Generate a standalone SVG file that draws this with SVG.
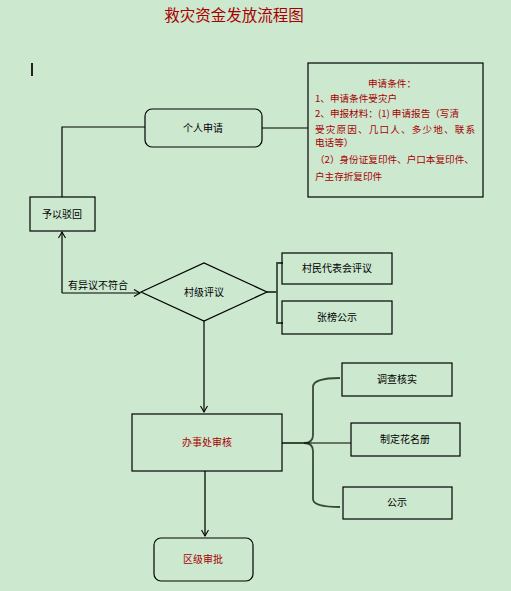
<svg xmlns="http://www.w3.org/2000/svg" width="511" height="591" viewBox="0 0 511 591">
<defs>
<style>
.t{font-family:"Noto Sans CJK SC","Noto Sans",sans-serif;font-size:10px;fill:#000;text-anchor:middle}
.r{fill:#a80000}
.c{font-family:"Noto Sans CJK SC","Noto Sans",sans-serif;font-size:9.6px;fill:#a80000}
.box{fill:none;stroke:#000;stroke-width:1.2}
.ln{fill:none;stroke:#000;stroke-width:1.2}
.br{fill:none;stroke:#3a4a3a;stroke-width:1.8}
</style>
<marker id="ar" markerWidth="10" markerHeight="10" refX="7" refY="4" orient="auto" markerUnits="userSpaceOnUse">
<path d="M1,0.5 L7,4 L1,7.5" fill="none" stroke="#000" stroke-width="1.1"/>
</marker>
</defs>
<rect width="511" height="591" fill="#cce8cf"/>
<text x="234" y="21" style="font-family:'Noto Sans CJK SC',sans-serif;font-size:15.5px;fill:#a80000;text-anchor:middle">救灾资金发放流程图</text>
<rect x="31" y="63" width="2" height="13" fill="#222"/>

<g id="connectors">
<path class="ln" d="M145,127 H62 V197"/>
<path class="ln" d="M262,128 H308"/>
<path class="ln" d="M62,293 V232" marker-end="url(#ar)"/>
<path class="ln" d="M62,293 H140" marker-end="url(#ar)"/>
<path class="br" d="M267,292 H277 M283,263 H277 V323 H283"/>
<path class="ln" d="M204,321 V412" marker-end="url(#ar)"/>
<path class="br" d="M282,443 H304 Q313,443 313,435 V387 Q313,378 340,378"/>
<path class="br" d="M304,443 Q313,443 313,451 V499 Q313,507 340,507"/>
<path class="ln" d="M304,443 H351"/>
<path class="br" d="M205,471 V536" marker-end="url(#ar)"/>
</g>

<g id="cond">
<rect class="box" x="308" y="63" width="175" height="134"/>
<text class="c" x="392" y="87" text-anchor="middle">申请条件：</text>
<text class="c" x="315" y="102">1、申请条件受灾户</text>
<text class="c" x="315" y="117">2、申报材料：(1) 申请报告（写清</text>
<text class="c" x="315" y="133" textLength="160">受灾原因、几口人、多少地、联系</text>
<text class="c" x="315" y="146">电话等）</text>
<text class="c" x="315" y="163">（2）身份证复印件、户口本复印件、</text>
<text class="c" x="315" y="180">户主存折复印件</text>
</g>

<g id="apply">
<rect class="box" x="145" y="109" width="117" height="38" rx="7"/>
<text class="t" x="203" y="132">个人申请</text>
</g>

<g id="reject">
<rect class="box" x="30" y="197" width="65" height="34"/>
<text class="t" x="62" y="218">予以驳回</text>
</g>

<text class="t" x="98" y="289">有异议不符合</text>

<g id="village">
<polygon class="box" points="141,292 204,263 267,292 204,321"/>
<text class="t" x="204" y="296">村级评议</text>
</g>

<g id="rep">
<rect class="box" x="282" y="253" width="110" height="31"/>
<text class="t" x="337" y="272">村民代表会评议</text>
</g>

<g id="post1">
<rect class="box" x="282" y="301" width="110" height="33"/>
<text class="t" x="337" y="321">张榜公示</text>
</g>

<g id="office">
<rect class="box" x="132" y="414" width="150" height="57"/>
<text class="t r" x="207" y="446">办事处审核</text>
</g>

<g id="verify">
<rect class="box" x="342" y="363" width="110" height="33"/>
<text class="t" x="397" y="383">调查核实</text>
</g>

<g id="roster">
<rect class="box" x="351" y="423" width="109" height="33"/>
<text class="t" x="405" y="443">制定花名册</text>
</g>

<g id="post2">
<rect class="box" x="343" y="487" width="109" height="32"/>
<text class="t" x="397" y="506">公示</text>
</g>

<g id="district">
<rect class="box" x="154" y="538" width="99" height="43" rx="7" stroke-width="1.5"/>
<text class="t r" x="203" y="563">区级审批</text>
</g>
</svg>
